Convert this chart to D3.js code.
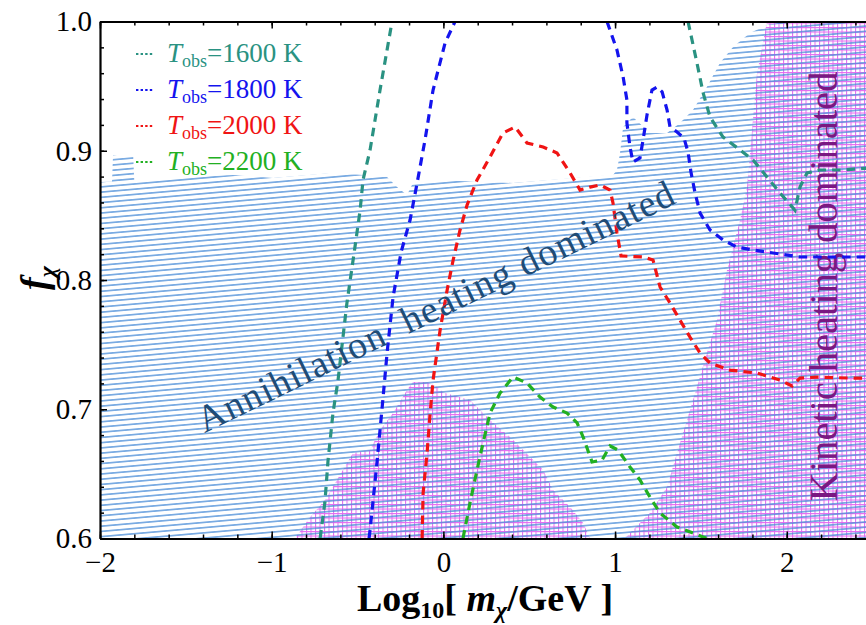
<!DOCTYPE html>
<html lang="en">
<head>
<meta charset="UTF-8">
<title>f_chi vs mass</title>
<script src="https://d3js.org/d3.v7.min.js"></script>
<style>
    body { margin: 0; background: #fff; }
    svg text { font-family: "Liberation Serif", "Times New Roman", serif; }
    .axis path, .axis line { stroke: #000; }
</style>
</head>
<body>
<svg width="866" height="625"></svg>
<script>

// tick labels
const xTicks = [-2, -1, 0, 1, 2];
const yTicks = [0.6, 0.7, 0.8, 0.9, 1.0];

// legend
const legendTemps = ["1600", "1800", "2000", "2200"];

// upper edge of the annihilation-dominated (blue hatched) region
const annihilationEdge = [
    [-2.0, 0.8758], [-1.93, 0.876], [-1.924, 0.8967], [-1.807, 0.8967], [-1.80, 0.8758],
    [-1.609, 0.8789], [-1.225, 0.8812], [-0.992, 0.8789], [-0.643, 0.8828], [-0.468, 0.8812],
    [-0.328, 0.8797], [-0.27, 0.8719], [-0.212, 0.8658], [-0.177, 0.875], [-0.06, 0.8774],
    [0.406, 0.875], [0.988, 0.8812], [1.011, 0.8851], [1.029, 0.8983], [1.047, 0.9184],
    [1.104, 0.9261], [1.203, 0.9137], [1.303, 0.9137], [1.378, 0.9215], [1.454, 0.9315],
    [1.535, 0.9493], [1.611, 0.9679], [1.687, 0.9803], [1.786, 0.9911], [1.885, 0.9973],
    [2.001, 1.0], [2.5, 1.0]
];

// kinetic-dominated (magenta grid) regions
const kineticLow = [
    [-0.864, 0.6], [-0.776, 0.6166], [-0.689, 0.6298], [-0.62, 0.6453], [-0.526, 0.6661],
    [-0.427, 0.6685], [-0.369, 0.6839], [-0.293, 0.6971], [-0.212, 0.7149], [-0.177, 0.721],
    [-0.095, 0.721], [-0.037, 0.7172], [0.0, 0.713], [0.155, 0.7071], [0.272, 0.6917],
    [0.388, 0.6785], [0.505, 0.6631], [0.581, 0.653], [0.639, 0.6375], [0.738, 0.6244],
    [0.814, 0.612], [0.854, 0.6]
];
const kineticHighEdge = [
    [1.885, 1.0], [1.827, 0.96], [1.786, 0.8983], [1.769, 0.872], [1.728, 0.8464],
    [1.687, 0.8255], [1.652, 0.8077], [1.594, 0.769], [1.535, 0.7435], [1.477, 0.7172],
    [1.419, 0.6917], [1.361, 0.6661], [1.303, 0.6398], [1.203, 0.6197], [1.104, 0.6066],
    [1.057, 0.6]
];

// contours, T_obs = 1600 K
const t1600a = [
    [-0.718, 0.6], [-0.69, 0.628], [-0.672, 0.66], [-0.643, 0.6971], [-0.614, 0.722],
    [-0.562, 0.782], [-0.515, 0.8255], [-0.485, 0.854], [-0.468, 0.8774], [-0.427, 0.9006],
    [-0.369, 0.947], [-0.299, 1.0]
];
const t1600b = [
    [1.425, 1.0], [1.477, 0.9679], [1.513, 0.9447], [1.553, 0.9261], [1.629, 0.9106],
    [1.728, 0.9006], [1.804, 0.8928], [1.885, 0.8797], [1.961, 0.8673], [2.048, 0.854],
    [2.077, 0.872], [2.118, 0.8828], [2.194, 0.8851], [2.31, 0.8851], [2.5, 0.8867]
];
// T_obs = 1800 K
const t1800a = [
    [-0.433, 0.6], [-0.427, 0.6066], [-0.387, 0.6584], [-0.351, 0.7094], [-0.328, 0.7435],
    [-0.293, 0.7868], [-0.246, 0.8217], [-0.194, 0.8464], [-0.153, 0.875], [-0.107, 0.9083],
    [-0.06, 0.947], [0.01, 0.9834], [0.068, 1.0]
];
const t1800b = [
    [0.953, 1.0], [1.011, 0.978], [1.047, 0.957], [1.069, 0.9393], [1.069, 0.9215],
    [1.087, 0.9029], [1.104, 0.8913], [1.145, 0.8944], [1.163, 0.9083], [1.186, 0.9277],
    [1.215, 0.947], [1.245, 0.9493], [1.274, 0.9455], [1.303, 0.9315], [1.32, 0.9184],
    [1.361, 0.9145], [1.401, 0.9099], [1.425, 0.899], [1.442, 0.8836], [1.466, 0.8673],
    [1.495, 0.8518], [1.553, 0.8387], [1.629, 0.831], [1.71, 0.8255], [1.804, 0.8232],
    [1.92, 0.8209], [2.077, 0.8178], [2.5, 0.8178]
];
// T_obs = 2000 K
const t2000 = [
    [-0.124, 0.6], [-0.118, 0.6352], [-0.095, 0.6661], [-0.077, 0.6971], [-0.06, 0.7226],
    [-0.019, 0.7613], [0.022, 0.7923], [0.057, 0.8155], [0.097, 0.8387], [0.138, 0.858],
    [0.196, 0.8774], [0.272, 0.8952], [0.347, 0.9137], [0.418, 0.9184], [0.487, 0.906],
    [0.581, 0.9029], [0.662, 0.8983], [0.738, 0.8828], [0.796, 0.8696], [0.854, 0.8719],
    [0.913, 0.8735], [0.971, 0.8696], [0.988, 0.8596], [1.011, 0.8364], [1.035, 0.8186],
    [1.163, 0.8178], [1.221, 0.8155], [1.262, 0.7946], [1.32, 0.7822], [1.378, 0.769],
    [1.436, 0.7559], [1.495, 0.7435], [1.553, 0.7358], [1.669, 0.7303], [1.827, 0.728],
    [1.961, 0.7226], [2.031, 0.718], [2.077, 0.7241], [2.176, 0.7249], [2.369, 0.7241],
    [2.5, 0.7241]
];
// T_obs = 2200 K
const t2200 = [
    [0.114, 0.6], [0.155, 0.6275], [0.196, 0.653], [0.231, 0.6739], [0.272, 0.6971],
    [0.33, 0.7125], [0.406, 0.725], [0.487, 0.7203], [0.563, 0.7094], [0.639, 0.7017],
    [0.72, 0.6971], [0.779, 0.6894], [0.814, 0.6785], [0.866, 0.6592], [0.924, 0.6607],
    [0.971, 0.6716], [1.017, 0.6685], [1.087, 0.6553], [1.145, 0.6453], [1.203, 0.6321],
    [1.262, 0.6197], [1.361, 0.6089], [1.454, 0.6043], [1.535, 0.6]
];

const colors = ["#2a9282", "#1414ee", "#f01414", "#22b022"];
const curves = [
    {pts: t1600a, c: 0}, {pts: t1600b, c: 0},
    {pts: t1800a, c: 1}, {pts: t1800b, c: 1},
    {pts: t2000, c: 2}, {pts: t2200, c: 3}
];

const svg = d3.select("svg");

const x = d3.scaleLinear().domain([-2, 2.5]).range([100, 872.6]);
const y = d3.scaleLinear().domain([0.6, 1.0]).range([538.5, 21.5]);

const defs = svg.append("defs");
defs.append("clipPath").attr("id", "plotClip")
    .append("rect")
    .attr("x", x(-2)).attr("y", y(1.0))
    .attr("width", x(2.5) - x(-2)).attr("height", y(0.6) - y(1.0));

const grid = defs.append("pattern").attr("id", "gridPink")
    .attr("patternUnits", "userSpaceOnUse")
    .attr("width", 4.5).attr("height", 4.5);
grid.append("path")
    .attr("d", "M0,0.5H4.5M0.5,0V4.5")
    .attr("stroke", "#e46cf0").attr("stroke-width", 1.1).attr("fill", "none");

const hatch = defs.append("pattern").attr("id", "hatchBlue")
    .attr("patternUnits", "userSpaceOnUse")
    .attr("width", 40).attr("height", 5.2)
    .attr("patternTransform", "rotate(-5)");
hatch.append("line")
    .attr("x1", 0).attr("x2", 40).attr("y1", 2.6).attr("y2", 2.6)
    .attr("stroke", "#4d8fd8").attr("stroke-width", 1.2);

const line = d3.line().x(d => x(d[0])).y(d => y(d[1]));

const plot = svg.append("g").attr("clip-path", "url(#plotClip)");

// magenta kinetic regions under the blue hatch
plot.append("path")
    .attr("d", line(kineticLow) + "Z")
    .attr("fill", "url(#gridPink)");
plot.append("path")
    .attr("d", line(kineticHighEdge.concat([[2.5, 0.6], [2.5, 1.0]])) + "Z")
    .attr("fill", "url(#gridPink)");

plot.append("path")
    .attr("d", line(annihilationEdge.concat([[2.5, 0.6], [-2, 0.6]])) + "Z")
    .attr("fill", "url(#hatchBlue)");

// region labels
svg.append("text")
    .attr("transform", "translate(441,318) rotate(-26)")
    .attr("text-anchor", "middle")
    .attr("font-size", 38)
    .attr("fill", "#1f4c76")
    .attr("textLength", 526)
    .text("Annihilation\u00a0\u00a0heating dominated");

plot.append("text")
    .attr("transform", "translate(837,286.5) rotate(-90)")
    .attr("text-anchor", "middle")
    .attr("font-size", 41)
    .attr("fill", "#7a1882")
    .attr("textLength", 430)
    .text("Kinetic heating dominated");

// contours
plot.selectAll(".contour")
    .data(curves)
    .enter()
    .append("path")
    .attr("class", "contour")
    .attr("d", d => line(d.pts))
    .attr("fill", "none")
    .attr("stroke", d => colors[d.c])
    .attr("stroke-width", 3.2)
    .attr("stroke-dasharray", "8.5,6");

// axes
const axBottom = svg.append("g").attr("class", "axis")
    .attr("transform", `translate(0,${y(0.6)})`)
    .call(d3.axisBottom(x).tickValues(xTicks).tickSize(-7).tickSizeOuter(0).tickPadding(13)
        .tickFormat(d3.format("d")));
svg.append("g").attr("class", "axis")
    .attr("transform", `translate(0,${y(0.6)})`)
    .call(d3.axisBottom(x).tickValues(d3.range(-2, 2.51, 0.2)).tickSize(-4).tickFormat(""))
    .call(g => g.select(".domain").remove());

const axTop = svg.append("g").attr("class", "axis")
    .attr("transform", `translate(0,${y(1.0)})`)
    .call(d3.axisTop(x).tickValues(xTicks).tickSize(-7).tickSizeOuter(0).tickFormat(""));
svg.append("g").attr("class", "axis")
    .attr("transform", `translate(0,${y(1.0)})`)
    .call(d3.axisTop(x).tickValues(d3.range(-2, 2.51, 0.2)).tickSize(-4).tickFormat(""))
    .call(g => g.select(".domain").remove());

const axLeft = svg.append("g").attr("class", "axis")
    .attr("transform", `translate(${x(-2)},0)`)
    .call(d3.axisLeft(y).tickValues(yTicks).tickSize(-7).tickSizeOuter(0).tickPadding(8)
        .tickFormat(d3.format(".1f")));
svg.append("g").attr("class", "axis")
    .attr("transform", `translate(${x(-2)},0)`)
    .call(d3.axisLeft(y).tickValues(d3.range(0.6, 1.001, 0.02)).tickSize(-4).tickFormat(""))
    .call(g => g.select(".domain").remove());

[axBottom, axTop, axLeft].forEach(g => {
    g.select(".domain").attr("stroke-width", 2.2);
    g.selectAll(".tick text")
        .attr("font-size", 29)
        .attr("fill", "#000");
});
svg.selectAll(".axis .tick line").attr("stroke-width", 1.5);

// axis titles
const xt = svg.append("text")
    .attr("x", 485).attr("y", 611)
    .attr("text-anchor", "middle")
    .attr("font-weight", "bold")
    .attr("font-size", 38);
xt.append("tspan").text("Log");
xt.append("tspan").attr("font-size", 24).attr("dy", 7).text("10");
xt.append("tspan").attr("dy", -7).text("[ ");
xt.append("tspan").attr("font-style", "italic").text("m");
xt.append("tspan").attr("font-style", "italic").attr("font-size", 24).attr("dy", 7).text("χ");
xt.append("tspan").attr("dy", -7).text("/GeV ]");

const yt = svg.append("text")
    .attr("transform", "translate(47,278) rotate(-90)")
    .attr("text-anchor", "middle")
    .attr("font-weight", "bold")
    .attr("font-style", "italic")
    .attr("font-size", 38);
yt.append("tspan").text("f");
yt.append("tspan").attr("font-size", 24).attr("dy", 8).text("χ");

// legend
const legend = svg.append("g");
legendTemps.forEach((t, i) => {
    const by = 62 + i * 36;
    legend.append("line")
        .attr("x1", 136).attr("x2", 154).attr("y1", by - 8).attr("y2", by - 8)
        .attr("stroke", colors[i]).attr("stroke-width", 2.2)
        .attr("stroke-dasharray", "2.4,2.2");
    const tx = legend.append("text")
        .attr("x", 167).attr("y", by)
        .attr("font-size", 27)
        .attr("fill", colors[i]);
    tx.append("tspan").attr("font-style", "italic").text("T");
    tx.append("tspan").attr("font-size", 18).attr("dy", 5).text("obs");
    tx.append("tspan").attr("dy", -5).text("=" + t + " K");
});

</script>
</body>
</html>
